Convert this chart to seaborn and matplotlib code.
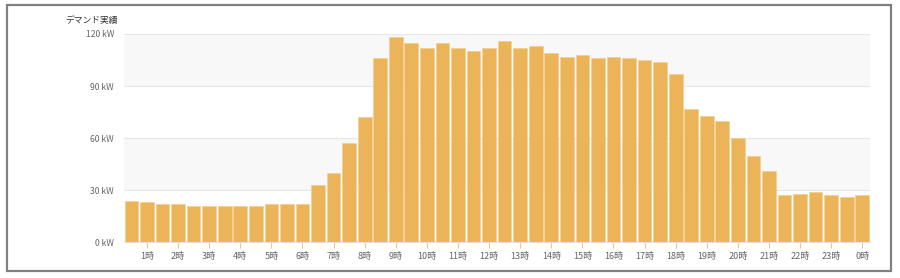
import matplotlib
matplotlib.use("Agg")
import matplotlib.pyplot as plt
import seaborn as sns
import pandas as pd
from matplotlib.patches import Rectangle

# Data: demand per half hour (kW), 0:30 .. 24:00
slots = list(range(1, 49))
demand_kw = [24, 23, 22, 22, 21, 21, 21, 21, 21, 22, 22, 22,
             33, 40, 57, 72, 106, 118, 115, 112, 115, 112, 110, 112,
             116, 112, 113, 109, 107, 108, 106, 107, 106, 105, 104, 97,
             77, 73, 70, 60, 50, 41, 27, 28, 29, 27, 26, 27]
hour_labels = [f"{h}時" for h in range(1, 24)] + ["0時"]
y_ticks = [0, 30, 60, 90, 120]
y_labels = [f"{v} kW" for v in y_ticks]
title = "デマンド実績"

sns.set_theme(style="white")
plt.rcParams['font.family'] = ['Noto Sans CJK JP', 'DejaVu Sans']

df = pd.DataFrame({"slot": slots, "kw": demand_kw})

fig = plt.figure(figsize=(9.0, 2.78), dpi=100)
ax = fig.add_axes([0.1374, 0.1284, 0.8293, 0.7493])

# alternating bands
ax.axhspan(30, 60, color="#f8f8f8", zorder=0, lw=0)
ax.axhspan(90, 120, color="#f8f8f8", zorder=0, lw=0)
for v in y_ticks:
    ax.axhline(v, color="#e6e6e6", lw=0.8, zorder=0.5)

sns.barplot(data=df, x="slot", y="kw", color="#ebb458", saturation=1,
            width=0.88, edgecolor="#f3d196", linewidth=0.6, ax=ax, zorder=2)

ax.set_xlim(-0.5, 47.5)
ax.set_ylim(0, 120)
ax.set_xticks(list(range(1, 48, 2)))
ax.set_xticklabels(hour_labels, fontsize=6.5, color="#666666")
ax.set_yticks(y_ticks)
ax.set_yticklabels(y_labels, fontsize=6.2, color="#666666")
ax.tick_params(axis="x", length=4, width=0.8, color="#cccccc", pad=3, bottom=True)
ax.tick_params(axis="y", length=0, pad=7)
ax.set_xlabel("")
ax.set_ylabel("")
for s in ["top", "right", "left"]:
    ax.spines[s].set_visible(False)
ax.spines["bottom"].set_color("#e0e0e0")
ax.spines["bottom"].set_linewidth(0.8)
ax.set_facecolor("white")

fig.text(118 / 900, 1 - 20 / 278, title, ha="right", va="center",
         fontsize=6.3, color="#333333")

fig.patches.append(Rectangle((6.5 / 900, 1 - 271 / 278), (891 - 6.5) / 900, (271 - 4.7) / 278,
                             transform=fig.transFigure, fill=False,
                             edgecolor="#808080", linewidth=1.6, zorder=10))

fig.savefig("out.png", dpi=100)
